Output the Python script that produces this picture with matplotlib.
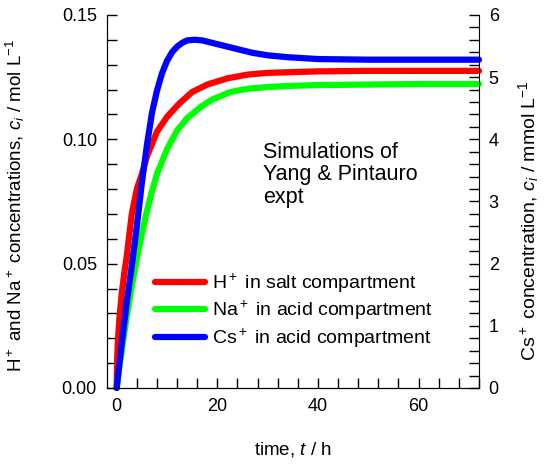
import matplotlib
matplotlib.use('Agg')
import matplotlib.pyplot as plt
from matplotlib.ticker import MultipleLocator, FormatStrFormatter

plt.rcParams['font.family'] = ['Liberation Sans', 'DejaVu Sans']
plt.rcParams['mathtext.fontset'] = 'custom'
plt.rcParams['mathtext.rm'] = 'Liberation Sans'
plt.rcParams['mathtext.it'] = 'Liberation Sans:italic'
plt.rcParams['font.size'] = 13

# H+ in salt compartment (mol/L)
t_h = [0, 0.1, 0.25, 0.5, 1.0, 1.5, 2.0, 3.0, 4.0, 5.0, 6.0, 8.0, 10, 12.5,
       15, 18, 22, 26, 30, 35, 40, 50, 60, 72]
c_h = [0, 0.012, 0.019, 0.027, 0.038, 0.046, 0.053, 0.070, 0.080, 0.086,
       0.093, 0.103, 0.109, 0.1145, 0.119, 0.122, 0.1245, 0.126, 0.1267,
       0.127, 0.1273, 0.1275, 0.1275, 0.1275]

# Na+ in acid compartment (mol/L)
t_na = [0, 0.5, 1.0, 1.8, 3.0, 4.0, 5.0, 6.0, 7.0, 8.0, 9.0, 10, 12, 14,
        16.7, 19, 22.6, 26, 30, 35, 40, 50, 60, 72]
c_na = [0, 0.008, 0.015, 0.026, 0.041, 0.052, 0.062, 0.071, 0.079, 0.086,
        0.091, 0.096, 0.1035, 0.1085, 0.113, 0.116, 0.119, 0.1203, 0.121,
        0.1215, 0.1218, 0.122, 0.1222, 0.1222]

# Cs+ in acid compartment (mmol/L)
t_cs = [0, 1.0, 2.0, 3.0, 4.0, 5.0, 6.0, 7.0, 8.0, 9.0, 10, 11, 12, 13, 14,
        15.5, 17, 19, 21, 24, 27, 30, 34, 40, 50, 60, 72]
c_cs = [0, 0.72, 1.38, 1.96, 2.6, 3.3, 3.9, 4.42, 4.78, 5.06, 5.26, 5.4,
        5.49, 5.55, 5.59, 5.60, 5.59, 5.55, 5.51, 5.45, 5.39, 5.35, 5.32,
        5.29, 5.28, 5.28, 5.28]

fig = plt.figure(figsize=(5.44, 4.66), dpi=100)
ax = fig.add_axes([0.196, 0.1674, 0.6845, 0.8006])
ax2 = ax.twinx()

lw = 4.5
l1, = ax.plot(t_h, c_h, color='#ff0000', lw=lw, solid_capstyle='round', clip_on=False)
l2, = ax.plot(t_na, c_na, color='#00ff00', lw=lw, solid_capstyle='round', clip_on=False)
l3, = ax2.plot(t_cs, c_cs, color='#0000ff', lw=lw, solid_capstyle='round', clip_on=False)

ax.set_xlim(-2, 72)
ax.set_ylim(0, 0.15)
ax2.set_ylim(0, 6)

ax.xaxis.set_major_locator(MultipleLocator(20))
ax.xaxis.set_minor_locator(MultipleLocator(4))
ax.yaxis.set_major_locator(MultipleLocator(0.05))
ax.yaxis.set_minor_locator(MultipleLocator(0.01))
ax2.yaxis.set_major_locator(MultipleLocator(1))
ax2.yaxis.set_minor_locator(MultipleLocator(0.2))
ax.yaxis.set_major_formatter(FormatStrFormatter('%.2f'))

for a in (ax, ax2):
    a.spines['top'].set_visible(False)
    a.tick_params(which='both', direction='in', length=7, width=1, pad=7)
ax.spines['right'].set_visible(False)

ax.set_xlabel('time, $t$ / h', fontsize=13.5)
ax.set_ylabel('H$^+$ and Na$^+$ concentrations, $c_i$ / mol L$^{-1}$', fontsize=13.5)
ax2.set_ylabel('Cs$^+$ concentration, $c_i$ / mmol L$^{-1}$', fontsize=14)
ax.xaxis.set_label_coords(0.5, -0.14)
ax.yaxis.set_label_coords(-0.215, 0.488)
ax2.yaxis.set_label_coords(1.10, 0.45)

ax.text(0.42, 0.66, 'Simulations of\nYang & Pintauro\nexpt', transform=ax.transAxes,
        ha='left', va='top', linespacing=1.1, fontsize=15.5)

ax2.legend([l1, l2, l3],
           ['H$^+$ in salt compartment', 'Na$^+$ in acid compartment',
            'Cs$^+$ in acid compartment'],
           loc='upper left', bbox_to_anchor=(0.13, 0.311), frameon=False,
           borderpad=0, borderaxespad=0, handlelength=2.55, handletextpad=0.4,
           labelspacing=0.2, fontsize=14)

plt.savefig('out.png', dpi=100)
plt.close()
